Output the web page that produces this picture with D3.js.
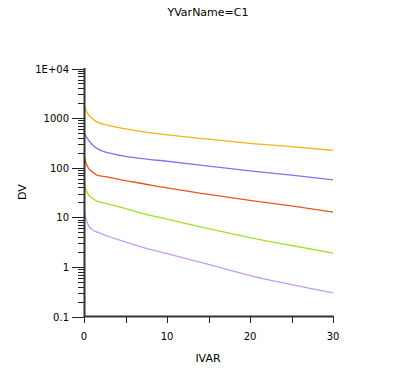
<!DOCTYPE html>
<html>
<head>
<meta charset="utf-8">
<script src="https://cdn.jsdelivr.net/npm/d3@7"></script>
<style>
  body { margin: 0; background: #fff; }
  text { font-family: "DejaVu Sans", sans-serif; fill: #000; }
</style>
</head>
<body>
<svg width="416" height="378"></svg>
<script>
const ivar = [0, 0.2, 0.5, 1, 1.5, 3, 4.5, 7, 10, 15, 20, 25, 30];

const seriesA = [1960, 1490, 1200, 980, 850, 715, 625, 535, 460, 377, 310, 266, 224];
const seriesB = [540, 443, 370, 290, 248, 198, 175, 153, 135, 108, 86, 71, 57];
const seriesC = [192, 132, 100, 83, 72, 64, 57, 48, 39, 29, 22, 17, 12.7];
const seriesD = [53, 37.7, 29, 24.5, 21.5, 18.5, 15.8, 12, 9.2, 5.9, 3.9, 2.7, 1.9];
const seriesE = [14.2, 9.8, 7.1, 5.6, 5.1, 4.1, 3.4, 2.5, 1.85, 1.12, 0.67, 0.44, 0.30];

const colors = ['#f2b41c', '#8c6fe6', '#e8561e', '#a2e02a', '#c49cf0'];
const xTicks = [0, 5, 10, 15, 20, 25, 30];
const xTickLabels = [0, 10, 20, 30];
const yTickLabels = { 0.1: '0.1', 1: '1', 10: '10', 100: '100', 1000: '1000', 10000: '1E+04' };

const svg = d3.select('svg');

const x = d3.scaleLinear().domain([0, 30]).range([84, 333]);
const y = d3.scaleLog().domain([0.1, 10000]).range([316.5, 68.5]);

svg.append('text')
  .attr('x', 208).attr('y', 16)
  .attr('text-anchor', 'middle')
  .attr('font-size', 11)
  .text('YVarName=C1');

// y axis: major + minor log ticks
const majors = [0.1, 1, 10, 100, 1000, 10000];
const minors = [];
majors.slice(0, -1).forEach(m => { for (let k = 2; k <= 9; k++) minors.push(m * k); });

const yAxis = svg.append('g').attr('class', 'y-axis');
yAxis.selectAll('line.minor')
  .data(minors).enter().append('line')
  .attr('x1', 78).attr('x2', 84)
  .attr('y1', d => Math.round(y(d)) + 0.5).attr('y2', d => Math.round(y(d)) + 0.5)
  .attr('stroke', '#222').attr('stroke-width', 1);
yAxis.selectAll('line.major')
  .data(majors).enter().append('line')
  .attr('x1', 72).attr('x2', 84)
  .attr('y1', d => Math.round(y(d)) + 0.5).attr('y2', d => Math.round(y(d)) + 0.5)
  .attr('stroke', '#222').attr('stroke-width', 1);
yAxis.selectAll('text')
  .data(majors).enter().append('text')
  .attr('x', 69).attr('y', d => y(d) + 4)
  .attr('text-anchor', 'end')
  .attr('font-size', 10)
  .text(d => yTickLabels[d]);

// x axis
const xAxis = svg.append('g').attr('class', 'x-axis');
xAxis.selectAll('line')
  .data(xTicks).enter().append('line')
  .attr('x1', d => Math.round(x(d)) + 0.5).attr('x2', d => Math.round(x(d)) + 0.5)
  .attr('y1', 316).attr('y2', 323)
  .attr('stroke', '#222').attr('stroke-width', 1);
xAxis.selectAll('text')
  .data(xTickLabels).enter().append('text')
  .attr('x', d => x(d)).attr('y', 340)
  .attr('text-anchor', 'middle')
  .attr('font-size', 10)
  .text(d => d);

// curves
const line = d3.line()
  .x((d, i) => x(ivar[i]))
  .y(d => y(d))
  .curve(d3.curveMonotoneX);

svg.append('g').attr('class', 'series')
  .selectAll('path')
  .data([seriesA, seriesB, seriesC, seriesD, seriesE])
  .enter().append('path')
  .attr('d', line)
  .attr('fill', 'none')
  .attr('stroke', (d, i) => colors[i])
  .attr('stroke-width', 1.3);

// axis lines on top
svg.append('line')
  .attr('x1', 84.5).attr('x2', 84.5).attr('y1', 68).attr('y2', 317)
  .attr('stroke', '#333').attr('stroke-width', 2);
svg.append('line')
  .attr('x1', 84).attr('x2', 333.5).attr('y1', 316.5).attr('y2', 316.5)
  .attr('stroke', '#333').attr('stroke-width', 2);

svg.append('text')
  .attr('x', 208).attr('y', 362)
  .attr('text-anchor', 'middle')
  .attr('font-size', 11)
  .text('IVAR');

svg.append('text')
  .attr('transform', 'translate(26,192) rotate(-90)')
  .attr('text-anchor', 'middle')
  .attr('font-size', 11)
  .text('DV');
</script>
</body>
</html>
